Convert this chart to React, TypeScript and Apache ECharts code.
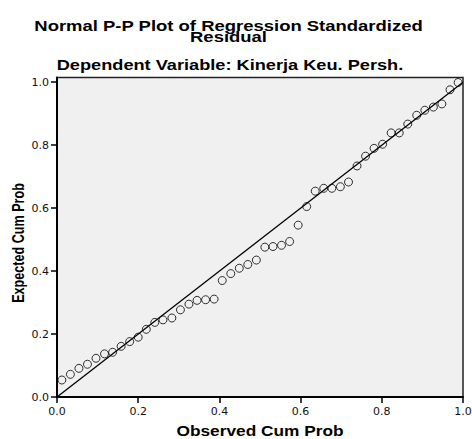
import { useEffect, useRef } from "react";
import * as echarts from "echarts";

const observedCumProb = [
  0.012, 0.033, 0.054, 0.075, 0.096, 0.117, 0.137, 0.158, 0.179, 0.2,
  0.22, 0.241, 0.261, 0.283, 0.304, 0.325, 0.345, 0.366, 0.387, 0.407,
  0.428, 0.449, 0.47, 0.491, 0.512, 0.532, 0.553, 0.573, 0.594, 0.615,
  0.636, 0.657, 0.677, 0.698, 0.718, 0.739, 0.76, 0.781, 0.802, 0.823,
  0.843, 0.864, 0.886, 0.906, 0.927, 0.948, 0.968, 0.988,
];
const expectedCumProb = [
  0.054, 0.072, 0.091, 0.104, 0.123, 0.137, 0.142, 0.161, 0.176, 0.19,
  0.215, 0.237, 0.245, 0.251, 0.277, 0.295, 0.307, 0.309, 0.311, 0.37,
  0.392, 0.409, 0.421, 0.435, 0.476, 0.478, 0.482, 0.494, 0.546, 0.605,
  0.654, 0.663, 0.663, 0.668, 0.683, 0.734, 0.765, 0.79, 0.803, 0.839,
  0.839, 0.867, 0.895, 0.911, 0.921, 0.931, 0.976, 0.999,
];
const diagonalX = [0, 1];
const diagonalY = [0, 1];
const tickValues = [0, 0.2, 0.4, 0.6, 0.8, 1.0];
const titleLines = ["Normal P-P Plot of Regression Standardized", "Residual"];
const subtitleText = "Dependent Variable: Kinerja Keu. Persh.";
const xAxisName = "Observed Cum Prob";
const yAxisName = "Expected Cum Prob";

function txt(
  text: string,
  x: number,
  y: number,
  size: number,
  opts: { scaleX?: number; scaleY?: number; rotation?: number; lineHeight?: number } = {}
) {
  return {
    type: "text",
    x,
    y,
    rotation: opts.rotation || 0,
    scaleX: opts.scaleX || 1,
    scaleY: opts.scaleY || 1,
    silent: true,
    style: {
      text,
      fill: "#000",
      fontSize: size,
      fontWeight: "bold",
      fontFamily: "Liberation Sans",
      lineHeight: opts.lineHeight || size,
      align: "center",
      textAlign: "center",
      verticalAlign: "middle",
      textVerticalAlign: "middle",
    },
  };
}

export default function App() {
  const ref = useRef<HTMLDivElement>(null);
  useEffect(() => {
    const chart = echarts.init(ref.current!, undefined, { renderer: "svg" });
    const points = observedCumProb.map((x, i) => [x, expectedCumProb[i]]);
    const diag = diagonalX.map((x, i) => [x, diagonalY[i]]);
    const tickLabel = {
      color: "#111",
      fontFamily: "DejaVu Sans",
      fontSize: 11,
      formatter: (v: number) => v.toFixed(1),
    };
    chart.setOption({
      animation: false,
      backgroundColor: "#fff",
      grid: {
        left: 57,
        right: 9,
        top: 77.5,
        bottom: 42,
        show: true,
        backgroundColor: "#f0f0f0",
        borderColor: "#222",
        borderWidth: 1.5,
        containLabel: false,
        outerBoundsMode: "none",
      },
      xAxis: {
        type: "value",
        min: 0,
        max: 1,
        interval: 0.2,
        splitLine: { show: false },
        axisLine: { show: true, onZero: false, lineStyle: { color: "#000", width: 2 } },
        axisTick: { show: true, length: 6, lineStyle: { color: "#000", width: 1.5 } },
        axisLabel: { ...tickLabel, margin: 9 },
      },
      yAxis: {
        type: "value",
        min: 0,
        max: 1.015,
        splitLine: { show: false },
        axisLine: { show: true, onZero: false, lineStyle: { color: "#000", width: 2 } },
        axisTick: { show: true, length: 6, customValues: tickValues, lineStyle: { color: "#000", width: 1.5 } },
        axisLabel: { ...tickLabel, margin: 8, customValues: tickValues },
      },
      graphic: [
        txt(titleLines.join("\n"), 228.5, 31.2, 14, { scaleX: 1.32, lineHeight: 11.6 }),
        txt(subtitleText, 230, 65.3, 14, { scaleX: 1.3, lineHeight: 12 }),
        txt(xAxisName, 260, 431.5, 14, { scaleX: 1.235, lineHeight: 12 }),
        txt(yAxisName, 18, 243, 12.6, { scaleY: 1.3, rotation: Math.PI / 2, lineHeight: 12 }),
      ],
      series: [
        {
          type: "line",
          data: diag,
          showSymbol: false,
          symbol: "none",
          lineStyle: { color: "#000", width: 1.3 },
          z: 2,
        },
        {
          type: "scatter",
          data: points,
          symbol: "circle",
          symbolSize: 8,
          itemStyle: { color: "rgba(0,0,0,0)", borderColor: "#000", borderWidth: 1 },
          z: 3,
        },
      ],
    });
    return () => chart.dispose();
  }, []);
  return (
    <div
      ref={ref}
      style={{ position: "fixed", left: 0, top: 0, width: 472, height: 439, background: "#fff" }}
    />
  );
}
